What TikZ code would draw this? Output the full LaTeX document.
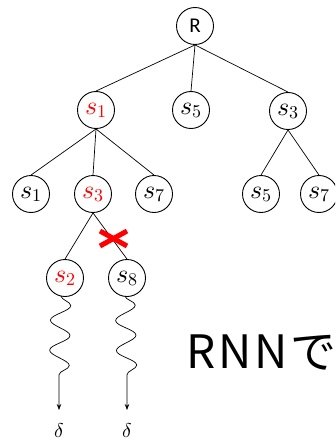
\documentclass[tikz,border=0pt]{standalone}
\usepackage{fontspec}
\newfontfamily\calib{Carlito}
\newfontfamily\lmm{Latin Modern Math}
\newfontfamily\jpfont[LetterSpace=6]{Noto Sans CJK JP}
\newcommand\sv[1]{{\lmm\fontsize{26}{26}\selectfont 𝑠}\raisebox{-0.3em}{\lmm\fontsize{18}{18}\selectfont #1}}
\usetikzlibrary{decorations.pathmorphing,arrows.meta}
\begin{document}
\begin{tikzpicture}[x=1pt,y=-1pt,
  tnode/.style={circle,draw,line width=0.9pt,minimum size=37pt,inner sep=0pt},
  redtxt/.style={text=red},
  edge/.style={line width=0.7pt},
  wave/.style={line width=0.7pt,-{Stealth[length=6pt,width=4.5pt]},decoration={snake,segment length=30pt,amplitude=10pt}},
  cross/.style={red,line width=5pt},
  lbl/.style={font=\lmm\fontsize{20}{20}\selectfont,inner sep=0pt}]
\useasboundingbox (0,0) rectangle (335,441);
\clip (0,0) rectangle (335,441);
% nodes
\node[tnode,font=\calib\fontsize{21}{21}\selectfont] (R) at (195,26) {R};
\node[tnode,redtxt] (a1) at (96,110) {\sv{1}};
\node[tnode] (a5) at (191,110) {\sv{5}};
\node[tnode] (a3) at (288,111) {\sv{3}};
\node[tnode] (b1) at (31,194) {\sv{1}};
\node[tnode,redtxt] (b3) at (93,194) {\sv{3}};
\node[tnode] (b7) at (154,194) {\sv{7}};
\node[tnode] (c5) at (261,194) {\sv{5}};
\node[tnode] (c7) at (319,194) {\sv{7}};
\node[tnode,redtxt] (d2) at (65,278) {\sv{2}};
\node[tnode] (d8) at (127,278) {\sv{8}};
% edges
\draw[edge] (R.south) -- (a1.north);
\draw[edge] (R.south) -- (a5.north);
\draw[edge] (R.south) -- (a3.north);
\draw[edge] (a1.south) -- (b1.north);
\draw[edge] (a1.south) -- (b3.north);
\draw[edge] (a1.south) -- (b7.north);
\draw[edge] (a3.south) -- (c5.north);
\draw[edge] (a3.south) -- (c7.north);
\draw[edge] (b3.south) -- (d2.north);
\draw[edge] (b3.south) -- (d8.north);
% red cross
\coordinate (x1) at (100,231);
\coordinate (x2) at (127,246);
\coordinate (x3) at (100,246);
\coordinate (x4) at (127,231);
\draw[cross] (x1) -- (x2);
\draw[cross] (x3) -- (x4);
% wavy arrows
\coordinate (s2w) at (61,296);
\coordinate (w2) at (59,376);
\coordinate (e2) at (59,410);
\coordinate (s8w) at (125,296);
\coordinate (w8) at (127,376);
\coordinate (e8) at (127,410);
\draw[wave] decorate {(s2w) -- (w2)} -- (e2);
\draw[wave] decorate {(s8w) -- (w8)} -- (e8);
% deltas
\node[lbl] (l2) at (59,430) {𝛿};
\node[lbl] (l8) at (127,430) {𝛿};
% text
\node[anchor=base west,inner sep=0pt,font=\jpfont\fontsize{46}{46}\selectfont] (rnn) at (186,368) {RNNで};
\end{tikzpicture}
\end{document}
